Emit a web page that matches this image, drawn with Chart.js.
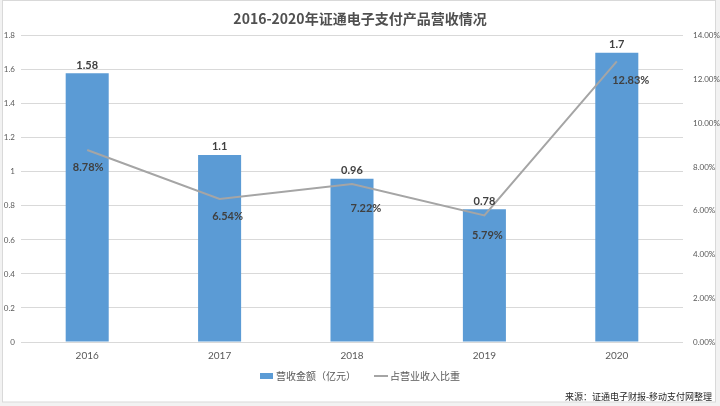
<!DOCTYPE html>
<html>
<head>
<meta charset="utf-8">
<script src="https://cdn.jsdelivr.net/npm/chart.js@4.4.1/dist/chart.umd.min.js"></script>
<style>
  html, body { margin: 0; padding: 0; background: #f2f2f2; }
  #wrap { width: 720px; height: 406px; }
</style>
</head>
<body>
<div id="wrap"><canvas id="rev-chart" width="720" height="406"></canvas></div>
<script>
// 数据
const years = ['2016', '2017', '2018', '2019', '2020'];
const revenue = [1.58, 1.1, 0.96, 0.78, 1.7];          // 营收金额（亿元）
const revenueShare = [8.78, 6.54, 7.22, 5.79, 12.83];  // 占营业收入比重 (%)
const leftTicks = [0, 0.2, 0.4, 0.6, 0.8, 1, 1.2, 1.4, 1.6, 1.8];
const rightTicks = [0, 2, 4, 6, 8, 10, 12, 14];

const BAR_COLOR = '#5b9bd5';
const LINE_COLOR = '#a5a5a5';
const TEXT_COLOR = '#595959';
const FONT = 'Lato, "Noto Sans CJK SC", sans-serif';
const CJK_FONT = '"Noto Sans CJK SC", Lato, sans-serif';

// 百分比标签相对数据点的偏移（像素）
const shareLabelNudge = [[1, 17], [8, 17], [14, 24], [3, 20], [14, 19]];

// 背景和边框
const framePlugin = {
    id: 'frame',
    beforeDraw(chart) {
        const ctx = chart.ctx;
        ctx.save();
        ctx.fillStyle = '#f2f2f2';
        ctx.fillRect(0, 0, chart.width, chart.height);
        ctx.fillStyle = '#ffffff';
        ctx.fillRect(2, 0, 714, 402);
        ctx.strokeStyle = '#d9d9d9';
        ctx.lineWidth = 1;
        ctx.strokeRect(2.5, 0.5, 713, 401.5);
        ctx.restore();
    }
};

// 数值标签
const valueLabelPlugin = {
    id: 'valueLabels',
    afterDatasetsDraw(chart) {
        const ctx = chart.ctx;
        ctx.save();
        ctx.fillStyle = '#404040';
        ctx.font = 'bold 11px ' + FONT;
        ctx.textAlign = 'center';
        ctx.textBaseline = 'middle';

        chart.getDatasetMeta(0).data.forEach((bar, i) => {
            ctx.fillText(String(revenue[i]), bar.x, bar.y - 8);
        });

        chart.getDatasetMeta(1).data.forEach((pt, i) => {
            const [dx, dy] = shareLabelNudge[i];
            ctx.fillText(revenueShare[i].toFixed(2) + '%', pt.x + dx, pt.y + dy);
        });
        ctx.restore();
    }
};

// 自定义图例和来源
const legendPlugin = {
    id: 'customLegend',
    afterDraw(chart) {
        const ctx = chart.ctx;
        const ds = chart.data.datasets;
        const y = 376;
        ctx.save();
        ctx.font = '10px ' + CJK_FONT;
        ctx.textBaseline = 'middle';
        ctx.textAlign = 'left';
        const w1 = ctx.measureText(ds[0].label).width;
        const w2 = ctx.measureText(ds[1].label).width;
        const total = 13 + 3 + w1 + 18 + 14 + 2 + w2;
        let x = chart.width / 2 - total / 2;

        ctx.fillStyle = BAR_COLOR;
        ctx.fillRect(x, y - 3, 13, 6);
        x += 16;
        ctx.fillStyle = TEXT_COLOR;
        ctx.fillText(ds[0].label, x, y);
        x += w1 + 18;

        ctx.strokeStyle = LINE_COLOR;
        ctx.lineWidth = 2;
        ctx.beginPath();
        ctx.moveTo(x, y);
        ctx.lineTo(x + 14, y);
        ctx.stroke();
        x += 16;
        ctx.fillText(ds[1].label, x, y);

        // 来源
        ctx.font = '9px ' + CJK_FONT;
        ctx.fillStyle = '#262626';
        ctx.textAlign = 'right';
        ctx.fillText('来源：证通电子财报-移动支付网整理', 712, 397);
        ctx.restore();
    }
};

const ctx = document.getElementById('rev-chart').getContext('2d');
new Chart(ctx, {
    data: {
        labels: years,
        datasets: [
            {
                type: 'bar',
                label: '营收金额（亿元）',
                data: revenue,
                backgroundColor: BAR_COLOR,
                yAxisID: 'y',
                barPercentage: 0.325,
                categoryPercentage: 1,
                order: 2
            },
            {
                type: 'line',
                label: '占营业收入比重',
                data: revenueShare,
                borderColor: LINE_COLOR,
                borderWidth: 2,
                pointRadius: 0,
                tension: 0,
                yAxisID: 'y1',
                order: 1
            }
        ]
    },
    options: {
        responsive: false,
        animation: false,
        layout: { padding: { top: 0, bottom: 34, left: 0, right: 0 } },
        plugins: {
            legend: { display: false },
            tooltip: { enabled: false },
            title: {
                display: true,
                text: '2016-2020年证通电子支付产品营收情况',
                color: '#505050',
                font: { family: CJK_FONT, size: 14, weight: 'bold', lineHeight: 1.2 },
                padding: { top: 10, bottom: 9 }
            }
        },
        scales: {
            x: {
                grid: { display: false, drawTicks: false },
                border: { display: false },
                ticks: {
                    color: TEXT_COLOR,
                    font: { family: FONT, size: 10 },
                    padding: 8,
                    maxRotation: 0
                },
                afterFit(scale) { scale.height = 30; }
            },
            y: {
                position: 'left',
                min: 0,
                max: 1.8,
                afterBuildTicks(scale) { scale.ticks = leftTicks.map(v => ({ value: v })); },
                grid: { color: '#d9d9d9', drawTicks: false },
                border: { display: false },
                ticks: {
                    color: TEXT_COLOR,
                    font: { family: FONT, size: 8 },
                    padding: 6,
                    callback: v => String(Number(v.toFixed(1)))
                },
                afterFit(scale) { scale.width = 21; }
            },
            y1: {
                position: 'right',
                min: 0,
                max: 14,
                afterBuildTicks(scale) { scale.ticks = rightTicks.map(v => ({ value: v })); },
                grid: { display: false, drawTicks: false },
                border: { display: false },
                ticks: {
                    color: TEXT_COLOR,
                    font: { family: FONT, size: 8 },
                    padding: 10,
                    callback: v => v.toFixed(2) + '%'
                },
                afterFit(scale) { scale.width = 37; }
            }
        }
    },
    plugins: [framePlugin, valueLabelPlugin, legendPlugin]
});
</script>
</body>
</html>
